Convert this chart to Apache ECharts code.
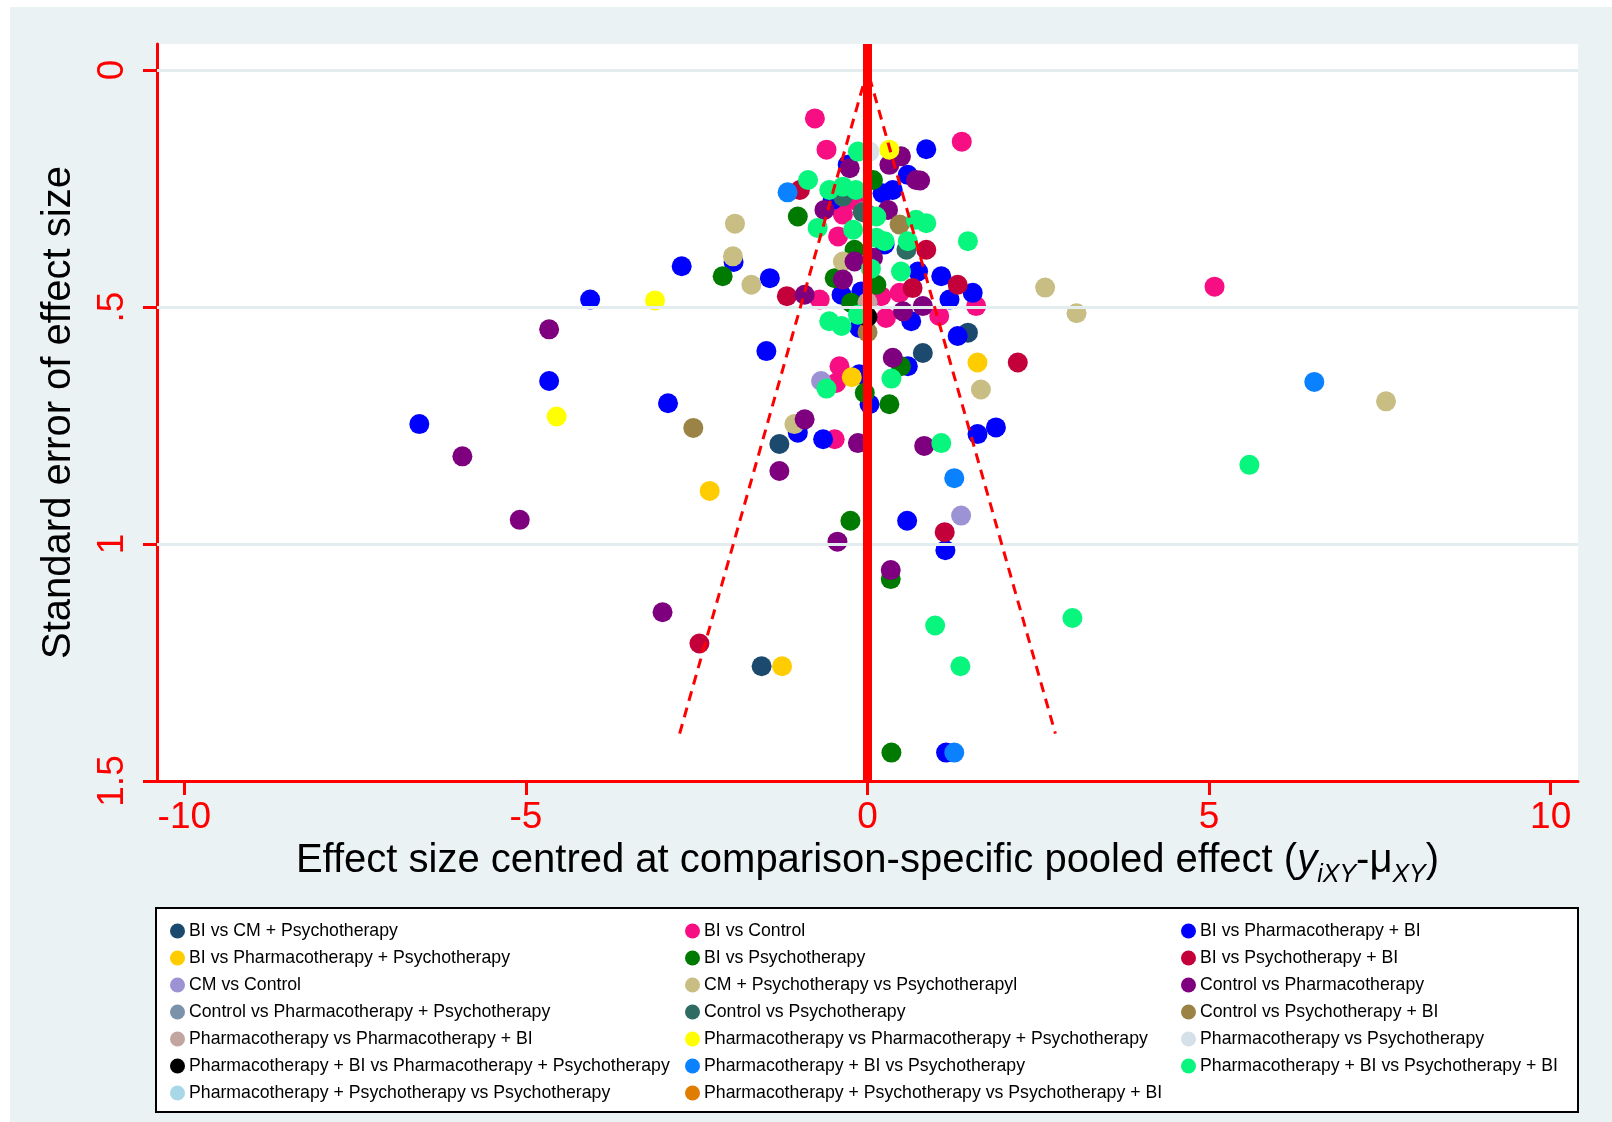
<!DOCTYPE html>
<html>
<head>
<meta charset="utf-8">
<script src="https://cdn.jsdelivr.net/npm/echarts@6/dist/echarts.min.js"></script>
<style>
  html, body { margin: 0; padding: 0; background: #ffffff; }
  #chart { position: absolute; left: 10px; top: 7px; width: 1602px; height: 1115px; background: #EAF2F3; }
</style>
</head>
<body>
<div id="chart"></div>
<script>
// ---------- data (x = centred effect size, y = standard error) ----------
const xTicks = [-10, -5, 0, 5, 10];
const yTicks = [0, 0.5, 1, 1.5];
const yGrid = [0, 0.5, 1];

const biVsCmPsych = [[-1.55,1.258],[-1.29,0.789],[0.81,0.597],[1.47,0.554],[-0.02,0.302]];
const biVsControl = [[-0.77,0.102],[-0.60,0.168],[1.38,0.151],[-0.21,0.274],[-0.36,0.305],[-0.43,0.351],[-0.70,0.484],[0.20,0.477],[0.47,0.470],[0.27,0.523],[1.05,0.519],[1.59,0.498],[-0.41,0.625],[-0.46,0.660],[-0.48,0.779],[5.08,0.457]];
const biVsPharmBi = [[-6.56,0.747],[-4.66,0.656],[-4.06,0.484],[-2.72,0.414],[-2.92,0.703],[-1.96,0.405],[-1.43,0.439],[-1.48,0.593],[-1.02,0.765],[-0.65,0.779],[0.86,0.167],[0.59,0.221],[0.22,0.260],[0.37,0.253],[-0.29,0.200],[-0.51,0.274],[0.25,0.368],[-0.09,0.467],[-0.38,0.474],[0.74,0.425],[1.08,0.435],[1.20,0.484],[1.54,0.470],[0.64,0.530],[1.32,0.561],[-0.12,0.544],[-0.12,0.642],[0.59,0.625],[0.03,0.705],[1.61,0.768],[1.88,0.754],[0.58,0.951],[1.14,1.013],[1.15,1.440]];
const biVsPharmPsych = [[-2.31,0.888],[-1.25,1.258],[-0.23,0.648],[1.61,0.617]];
const biVsPsych = [[-2.12,0.435],[-1.02,0.309],[0.08,0.232],[-0.19,0.379],[-0.48,0.439],[0.13,0.453],[-0.24,0.491],[0.49,0.625],[-0.04,0.681],[0.32,0.705],[-0.25,0.951],[0.34,1.074],[0.35,1.440]];
const biVsPsychBi = [[-1.18,0.477],[-0.99,0.253],[0.86,0.379],[0.66,0.460],[1.32,0.453],[2.20,0.617],[1.13,0.975],[-2.46,1.210]];
const cmVsControl = [[-0.68,0.656],[1.37,0.940]];
const cmPsychVsPsych = [[-1.94,0.324],[-1.97,0.393],[-1.70,0.453],[-0.36,0.404],[-1.07,0.747],[1.66,0.674],[2.60,0.459],[3.06,0.513],[7.59,0.699]];
const controlVsPharm = [[-5.93,0.815],[-5.09,0.949],[-4.66,0.547],[-3.00,1.144],[-0.92,0.474],[-0.92,0.737],[-1.29,0.846],[-0.14,0.787],[0.83,0.793],[0.37,0.607],[-0.44,0.995],[0.34,1.055],[-0.26,0.207],[0.32,0.200],[0.49,0.182],[0.71,0.232],[0.77,0.233],[-0.63,0.295],[0.30,0.295],[-0.36,0.442],[-0.19,0.404],[0.08,0.396],[0.52,0.509],[0.81,0.498]];
const controlVsPharmPsych = [[-0.05,0.298]];
const controlVsPsych = [[0.57,0.379],[-0.07,0.300],[-0.36,0.267]];
const controlVsPsychBi = [[-2.55,0.755],[0.47,0.326],[0.00,0.553]];
const pharmVsPharmBi = [[0.00,0.490]];
const pharmVsPharmPsych = [[-4.55,0.731],[-3.11,0.486],[0.32,0.168]];
const pharmVsPsych = [[0.03,0.172]];
const pharmBiVsPharmPsych = [[0.00,0.521]];
const pharmBiVsPsych = [[-1.17,0.258],[1.27,0.861],[6.54,0.658],[1.27,1.440]];
const pharmBiVsPsychBi = [[-0.14,0.172],[-0.87,0.232],[-0.56,0.253],[-0.36,0.246],[-0.17,0.253],[-0.73,0.333],[-0.21,0.337],[0.13,0.309],[0.13,0.354],[0.25,0.361],[0.05,0.419],[0.71,0.316],[0.86,0.323],[0.59,0.361],[0.49,0.425],[-0.14,0.516],[-0.56,0.530],[-0.38,0.540],[0.35,0.651],[-0.60,0.672],[1.08,0.787],[1.47,0.361],[0.99,1.172],[1.36,1.258],[3.00,1.156],[5.59,0.833]];
const pharmPsychVsPsych = [];
const pharmPsychVsPsychBi = [];

// pseudo 95% confidence limits (funnel)
const funnelLine = [[-2.75,1.40],[0,0],[2.75,1.40]];

const seriesNames = [
  'BI vs CM + Psychotherapy','BI vs Control','BI vs Pharmacotherapy + BI',
  'BI vs Pharmacotherapy + Psychotherapy','BI vs Psychotherapy','BI vs Psychotherapy + BI',
  'CM vs Control','CM + Psychotherapy vs Psychotherapyl','Control vs Pharmacotherapy',
  'Control vs Pharmacotherapy + Psychotherapy','Control vs Psychotherapy','Control vs Psychotherapy + BI',
  'Pharmacotherapy vs Pharmacotherapy + BI','Pharmacotherapy vs Pharmacotherapy + Psychotherapy','Pharmacotherapy vs Psychotherapy',
  'Pharmacotherapy + BI vs Pharmacotherapy + Psychotherapy','Pharmacotherapy + BI vs Psychotherapy','Pharmacotherapy + BI vs Psychotherapy + BI',
  'Pharmacotherapy + Psychotherapy vs Psychotherapy','Pharmacotherapy + Psychotherapy vs Psychotherapy + BI'
];
const seriesData = [
  biVsCmPsych, biVsControl, biVsPharmBi, biVsPharmPsych, biVsPsych, biVsPsychBi,
  cmVsControl, cmPsychVsPsych, controlVsPharm, controlVsPharmPsych, controlVsPsych, controlVsPsychBi,
  pharmVsPharmBi, pharmVsPharmPsych, pharmVsPsych, pharmBiVsPharmPsych, pharmBiVsPsych, pharmBiVsPsychBi,
  pharmPsychVsPsych, pharmPsychVsPsychBi
];

// ---------- styles ----------
const palette = [
  '#1C4A6E','#F70E82','#0000FF','#FFCC00','#007A00','#C4003A',
  '#9B93D3','#C8BD83','#7F007F','#7B92AA','#2E6B62','#9A8344',
  '#C3A59F','#FFFF00','#D5E0E8','#000000','#0A82FF','#08F57E',
  '#A8D8E8','#E07C00'
];
const FONT = '"Liberation Sans", Arial, Helvetica, sans-serif';
const RED = '#FF0000';

const chart = echarts.init(document.getElementById('chart'), null, { renderer: 'canvas' });

const series = [];
// gridlines and zero line
series.push({
  type: 'line', data: [], z: 1, silent: true,
  markLine: {
    silent: true, symbol: 'none', animation: false,
    label: { show: false },
    lineStyle: { color: '#E3ECEF', width: 3, type: 'solid' },
    data: yGrid.map(v => ({ yAxis: v }))
  }
});
series.push({
  type: 'line', data: [], z: 2, silent: true,
  markLine: {
    silent: true, symbol: 'none', animation: false,
    label: { show: false },
    lineStyle: { color: RED, width: 9, type: 'solid' },
    data: [{ xAxis: 0 }]
  }
});
seriesData.forEach((d, i) => {
  series.push({
    name: seriesNames[i], type: 'scatter', data: d, z: 3,
    symbol: 'circle', symbolSize: 20, silent: true, animation: false,
    itemStyle: { color: palette[i], opacity: 1 },
    emphasis: { disabled: true }
  });
});
series.push({
  type: 'line', data: funnelLine, z: 5, silent: true, symbol: 'none', animation: false,
  lineStyle: { color: RED, width: 3, type: [10, 7] }
});

const legendCol = (names, left) => ({
  orient: 'vertical', left: left, top: 915, padding: 0,
  itemWidth: 15, itemHeight: 15, itemGap: 9.0, selectedMode: false,
  icon: 'circle',
  textStyle: { fontFamily: FONT, fontSize: 17.7, color: '#000', padding: [0, 0, 0, -1] },
  data: names
});

const option = {
  animation: false,
  backgroundColor: 'transparent',
  grid: { left: 147, top: 37, width: 1421, height: 737, show: true, backgroundColor: '#FFFFFF', borderWidth: 0 },
  xAxis: {
    type: 'value', min: -10.4, max: 10.4,
    axisLine: { show: true, onZero: false, lineStyle: { color: RED, width: 3 } },
    axisTick: { show: true, length: 14, lineStyle: { color: RED, width: 3 }, customValues: xTicks },
    axisLabel: { color: RED, fontSize: 37, fontFamily: FONT, margin: 18, customValues: xTicks,
      formatter: v => String(v) },
    splitLine: { show: false },
    name: 'Effect size centred at comparison-specific pooled effect ({it|y}{sub|iXY}-μ{sub|XY})',
    nameLocation: 'middle', nameGap: 60,
    nameTextStyle: {
      color: '#000', fontSize: 40, fontFamily: FONT,
      rich: {
        it: { fontSize: 40, fontStyle: 'italic', fontFamily: FONT, color: '#000' },
        sub: { fontSize: 25, fontStyle: 'italic', fontFamily: FONT, color: '#000', verticalAlign: 'bottom', lineHeight: 25, padding: [0, 0, -7, 0] }
      }
    }
  },
  yAxis: {
    type: 'value', inverse: true, min: -0.055, max: 1.5,
    axisLine: { show: true, onZero: false, lineStyle: { color: RED, width: 3 } },
    axisTick: { show: true, length: 14, lineStyle: { color: RED, width: 3 }, customValues: yTicks },
    axisLabel: { color: RED, fontSize: 37, fontFamily: FONT, margin: 26, rotate: 90, customValues: yTicks,
      formatter: v => (v === 0.5 ? '.5' : String(v)) },
    splitLine: { show: false },
    name: 'Standard error of effect size',
    nameLocation: 'middle', nameGap: 78, nameRotate: 90,
    nameTextStyle: { color: '#000', fontSize: 40, fontFamily: FONT }
  },
  graphic: [{
    type: 'rect', z: -1,
    shape: { x: 146, y: 901, width: 1422, height: 204 },
    style: { fill: '#FFFFFF', stroke: '#000000', lineWidth: 2 }
  }],
  legend: [
    legendCol([0,3,6,9,12,15,18].map(i => seriesNames[i]), 160),
    legendCol([1,4,7,10,13,16,19].map(i => seriesNames[i]), 675),
    legendCol([2,5,8,11,14,17].map(i => seriesNames[i]), 1171)
  ],
  series: series
};
chart.setOption(option);
</script>
</body>
</html>
